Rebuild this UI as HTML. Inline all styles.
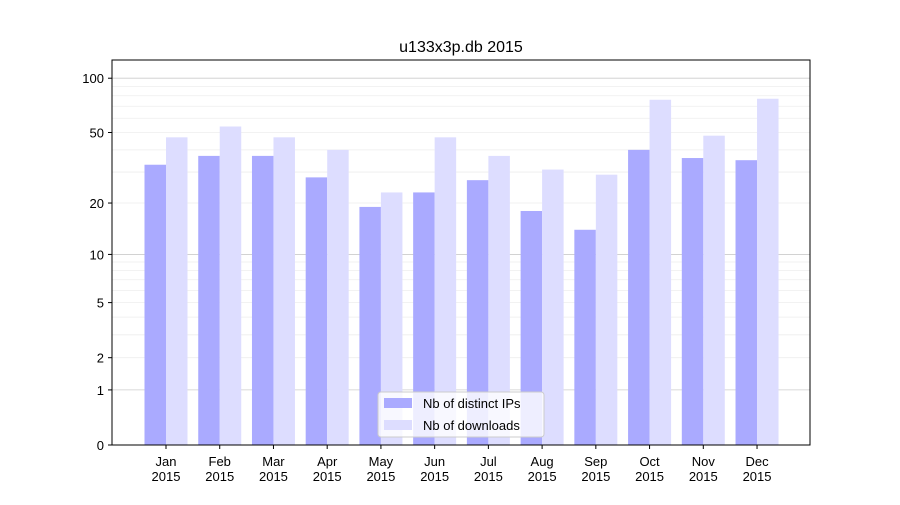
<!DOCTYPE html>
<html><head><meta charset="utf-8"><style>
body{margin:0;background:#fff;font-family:"Liberation Sans","DejaVu Sans",sans-serif}
</style></head><body>
<svg id="chart" width="900" height="500" xmlns="http://www.w3.org/2000/svg">
<text x="461" y="52" font-size="16" text-anchor="middle">u133x3p.db 2015</text>
<g id="grid"></g><g id="bars"></g><g id="axes"></g>
</svg>
<script>
const months=["Jan","Feb","Mar","Apr","May","Jun","Jul","Aug","Sep","Oct","Nov","Dec"];
const ips=[33,37,37,28,19,23,27,18,14,40,36,35];
const downloads=[47,54,47,40,23,47,37,31,29,76,48,77];
const yTicks=[0,1,2,5,10,20,50,100];
const NS="http://www.w3.org/2000/svg";
const L=112,R=810,T=60,B=445;
const k=183;
function y(v){return B-Math.log10(1+v)*k;}
function xc(i){return 166+i*53.73;}
function mk(tag,attrs,parent){const e=document.createElementNS(NS,tag);for(const a in attrs)e.setAttribute(a,attrs[a]);document.getElementById(parent).appendChild(e);return e;}
// minor grid
const minors=[];for(let d of [1,10])for(let m=2;m<=9;m++)minors.push(d*m);
minors.forEach(v=>{const l=mk('line',{x1:L,x2:R,y1:y(v),y2:y(v),stroke:'#eeeeee','stroke-width':0.8},'grid');

});
[1,10,100].forEach(v=>{const l=mk('line',{x1:L,x2:R,y1:y(v),y2:y(v),stroke:'#cccccc','stroke-width':0.8},'grid');

});
const bw=21.5;
months.forEach((m,i)=>{
 const c=xc(i);
 const b1=mk('rect',{x:c-bw,y:y(ips[i]),width:bw,height:B-y(ips[i]),fill:'#aaaaff'},'bars');
 
 
 const b2=mk('rect',{x:c,y:y(downloads[i]),width:bw,height:B-y(downloads[i]),fill:'#ddddff'},'bars');
 
 
 mk('line',{x1:c,x2:c,y1:B,y2:B+4,stroke:'#000'},'axes');
 const t=mk('text',{x:c,y:B+21,'font-size':13,'text-anchor':'middle'},'axes');t.textContent=m;
 
 
 const t2=mk('text',{x:c,y:B+36,'font-size':13,'text-anchor':'middle'},'axes');t2.textContent='2015';
 
 
});
yTicks.forEach(v=>{
 mk('line',{x1:L-4,x2:L,y1:y(v),y2:y(v),stroke:'#000'},'axes');
 const t=mk('text',{x:L-8,y:y(v)+5,'font-size':13,'text-anchor':'end'},'axes');t.textContent=v;
 
 
});
const fr=mk('rect',{x:L,y:T,width:R-L,height:B-T,fill:'none',stroke:'#000','stroke-width':1},'axes');


// legend
const lg=mk('g',{},'axes');


lg.innerHTML='<rect x="378" y="392" width="166" height="45" rx="3" fill="#fff" fill-opacity="0.8" stroke="#cccccc"/>'+
'<rect x="384" y="398" width="28" height="10" fill="#aaaaff"/><text x="423" y="408" font-size="13">Nb of distinct IPs</text>'+
'<rect x="384" y="420" width="28" height="10" fill="#ddddff"/><text x="423" y="430" font-size="13">Nb of downloads</text>';
</script>
</body></html>
